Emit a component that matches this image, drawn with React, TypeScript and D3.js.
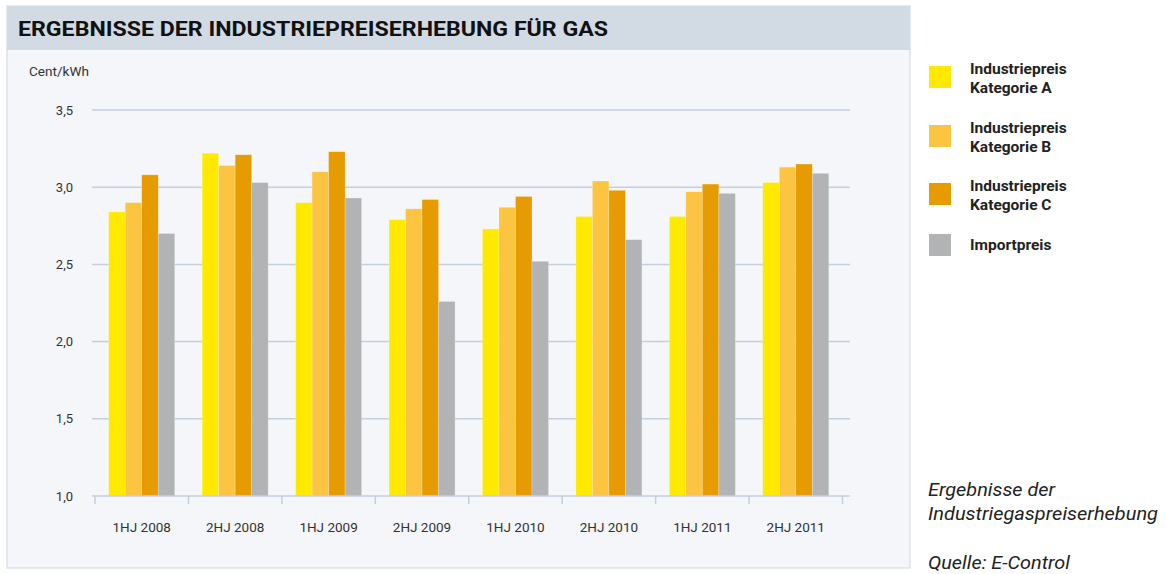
import React from "react";
import * as d3 from "d3";

const categories = ["1HJ 2008", "2HJ 2008", "1HJ 2009", "2HJ 2009", "1HJ 2010", "2HJ 2010", "1HJ 2011", "2HJ 2011"];
const kategorieA = [2.84, 3.22, 2.90, 2.79, 2.73, 2.81, 2.81, 3.03];
const kategorieB = [2.90, 3.14, 3.10, 2.86, 2.87, 3.04, 2.97, 3.13];
const kategorieC = [3.08, 3.21, 3.23, 2.92, 2.94, 2.98, 3.02, 3.15];
const importpreis = [2.70, 3.03, 2.93, 2.26, 2.52, 2.66, 2.96, 3.09];
const yTicks = [1.0, 1.5, 2.0, 2.5, 3.0, 3.5];

const series = [
  { key: "A", label: ["Industriepreis", "Kategorie A"], values: kategorieA, color: "#ffe900" },
  { key: "B", label: ["Industriepreis", "Kategorie B"], values: kategorieB, color: "#fcc541" },
  { key: "C", label: ["Industriepreis", "Kategorie C"], values: kategorieC, color: "#e69c00" },
  { key: "I", label: ["Importpreis"], values: importpreis, color: "#b2b3b5" },
];

const FONT = "Roboto, 'Open Sans', sans-serif";

export default function App() {
  const W = 1166, H = 574;
  const x0 = d3.scaleBand<string>().domain(categories).range([95, 842.5]).paddingInner(0).paddingOuter(0);
  const x1 = d3.scaleBand<string>().domain(series.map(s => s.key)).range([0, x0.bandwidth()]).paddingInner(0).paddingOuter(0.83);
  const y = d3.scaleLinear().domain([1, 3.5]).range([496, 110]);
  const fmt = (v: number) => d3.format(".1f")(v).replace(".", ",");
  const boundaries = [...categories.map(c => x0(c) as number), (x0(categories[categories.length - 1]) as number) + x0.bandwidth()];

  const legendY = [66, 125, 183, 234];

  return (
    <svg width={W} height={H} style={{ position: "absolute", left: 0, top: 0, background: "#ffffff" }} fontFamily={FONT}>
      {/* panel */}
      <rect x={7} y={6} width={903} height={562} fill="#f4f6fa" stroke="#dde3ec" strokeWidth={1.5} />
      <rect x={7} y={6} width={903} height={44} fill="#d2dbe4" />
      <text x={18} y={36} fontSize={20} fontWeight={700} fill="#111" textLength={590} lengthAdjust="spacingAndGlyphs">
        ERGEBNISSE DER INDUSTRIEPREISERHEBUNG FÜR GAS
      </text>

      <text x={29} y={76} fontSize={12.5} fill="#333" textLength={60} lengthAdjust="spacingAndGlyphs">Cent/kWh</text>

      {/* gridlines */}
      {yTicks.map(t => (
        <g key={t}>
          {t > 1 && <line x1={92} x2={850} y1={y(t)} y2={y(t)} stroke="#c5cedd" strokeWidth={1.5} />}
          <text x={73} y={y(t)} dy="0.35em" textAnchor="end" fontSize={13} fill="#333">{fmt(t)}</text>
        </g>
      ))}

      {/* bars */}
      {categories.map((c, i) => (
        <g key={c} transform={`translate(${x0(c)},0)`}>
          {series.map(s => (
            <rect
              key={s.key}
              x={x1(s.key)}
              y={y(s.values[i])}
              width={x1.bandwidth()}
              height={y(1) - y(s.values[i])}
              fill={s.color}
              stroke="#ffffff"
              strokeOpacity={0.35}
              strokeWidth={0.6}
            />
          ))}
        </g>
      ))}

      {/* x axis */}
      <line x1={92} x2={850} y1={y(1)} y2={y(1)} stroke="#c5cedd" strokeWidth={1.5} />
      {boundaries.map((b, i) => (
        <line key={i} x1={b} x2={b} y1={y(1)} y2={y(1) + 8} stroke="#c5cedd" strokeWidth={1.5} />
      ))}
      {categories.map(c => (
        <text key={c} x={(x0(c) as number) + x0.bandwidth() / 2} y={532} textAnchor="middle" fontSize={13.5} fill="#333">{c}</text>
      ))}

      {/* legend */}
      {series.map((s, i) => (
        <g key={s.key}>
          <rect x={929} y={legendY[i]} width={22} height={22} fill={s.color} />
          {s.label.map((l, j) => {
            const n = s.label.length;
            const baseY = n === 1 ? legendY[i] + 16 : legendY[i] + 8 + j * 19;
            return (
              <text key={j} x={970} y={baseY} fontSize={15.5} fontWeight={700} fill="#222">{l}</text>
            );
          })}
        </g>
      ))}

      {/* caption */}
      <g fontStyle="italic" fontSize={18} fill="#222">
        <text x={928} y={496} textLength={127} lengthAdjust="spacingAndGlyphs">Ergebnisse der</text>
        <text x={928} y={520} textLength={230} lengthAdjust="spacingAndGlyphs">Industriegaspreiserhebung</text>
        <text x={928} y={569} textLength={142} lengthAdjust="spacingAndGlyphs">Quelle: E-Control</text>
      </g>
    </svg>
  );
}
